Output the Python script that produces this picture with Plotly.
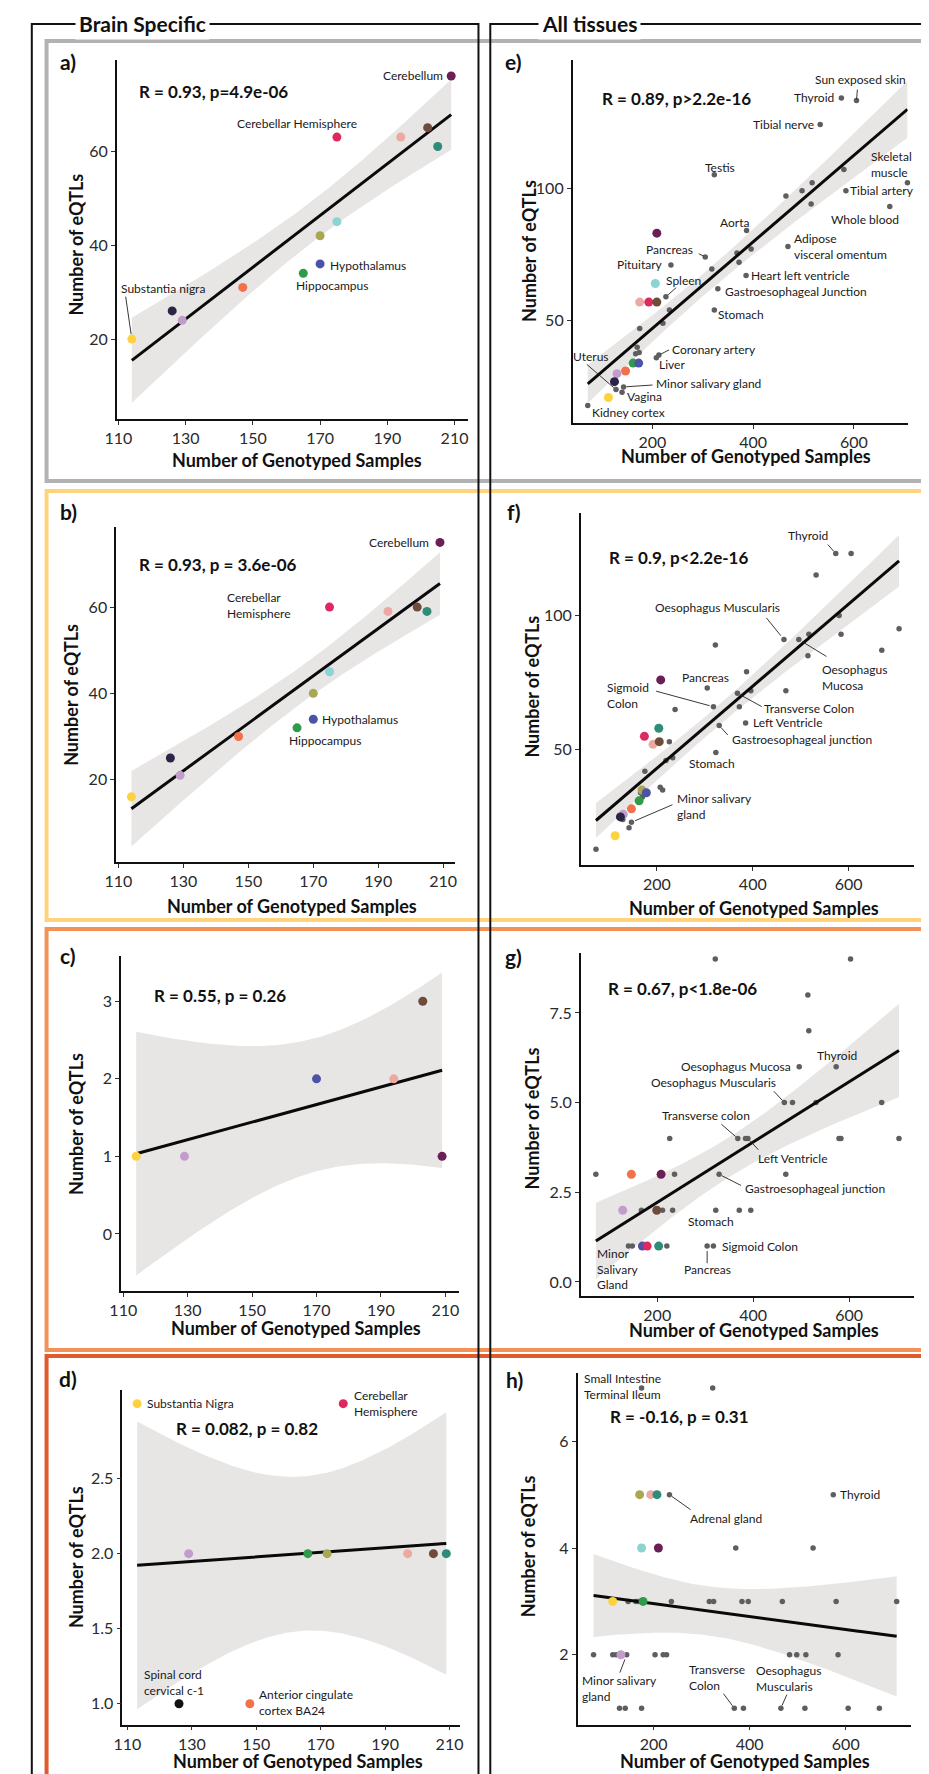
import numpy as np
import plotly.graph_objects as go

W, H = 929, 1774          # page / figure size
OFF = 0                   # no page offset
FW, FH = W - OFF, H - OFF

# ---------------------------------------------------------------- data
SN, SC, AMY, ACC, HIP, HYP, PUT, NAC, CH, CAU, FC, CTX, CB = (
    "Substantia nigra", "Spinal cord cervical c-1", "Amygdala",
    "Anterior cingulate cortex BA24", "Hippocampus", "Hypothalamus", "Putamen",
    "Nucleus accumbens", "Cerebellar Hemisphere", "Caudate", "Frontal Cortex BA9",
    "Cortex", "Cerebellum")

# panel a
a_tissue = [SN, SC, AMY, ACC, HIP, HYP, PUT, NAC, CH, CAU, FC, CTX, CB]
a_samples = [114, 126, 129, 147, 165, 170, 170, 175, 175, 194, 202, 205, 209]
a_eqtls = [20, 26, 24, 31, 34, 36, 42, 45, 63, 63, 65, 61, 76]
# panel b
b_tissue = [SN, SC, AMY, ACC, HIP, HYP, PUT, NAC, CH, CAU, FC, CTX, CB]
b_samples = [114, 126, 129, 147, 165, 170, 170, 175, 175, 193, 202, 205, 209]
b_eqtls = [16, 25, 21, 30, 32, 34, 40, 45, 60, 59, 60, 59, 75]
# panel c
c_tissue = [SN, AMY, HYP, CAU, FC, CB]
c_samples = [114, 129, 170, 194, 203, 209]
c_eqtls = [1, 1, 2, 2, 3, 1]
# panel d
d_tissue = [SN, CH, AMY, HIP, PUT, CAU, FC, CTX, SC, ACC]
d_samples = [113, 177, 129, 166, 172, 197, 205, 209, 126, 148]
d_eqtls = [3, 3, 2, 2, 2, 2, 2, 2, 1, 1]

# panel e
e_tissue = [CB, NAC, CAU, CH, FC, HIP, HYP, AMY, ACC, SC, SN]
e_samples = [209, 206, 175, 193, 209, 162, 173, 130, 147, 125, 113]
e_eqtls = [83, 64, 57, 57, 57, 34, 34, 30, 31, 27, 21]
e_other_names = ["Sun exposed skin", "Thyroid", "Tibial nerve", "Testis", "", "Skeletal muscle",
                 "Tibial artery", "Whole blood", "", "", "", "", "Aorta", "", "",
                 "Adipose visceral omentum", "", "Pancreas", "Pituitary", "",
                 "Heart left ventricle", "Gastroesophageal Junction", "Spleen", "Stomach",
                 "", "", "", "", "", "", "Coronary artery", "Liver", "Minor salivary gland",
                 "Uterus", "Vagina", "Kidney cortex"]
e_other_samples = [605, 575, 533, 323, 580, 706, 584, 671, 517, 497, 465, 515, 387, 396, 368,
                   469, 372, 305, 237, 318, 386, 330, 227, 323, 234, 221, 175, 170, 174, 167,
                   213, 208, 143, 128, 140, 72]
e_other_eqtls = [133, 134, 124, 105, 107, 102, 99, 93, 102, 99, 97, 94, 84, 77, 75.5,
                 78, 72, 74, 71, 69.5, 67, 62, 59, 54, 54, 49, 47, 40, 38, 37.5,
                 37, 36, 25, 24, 23, 18]

# panel f
f_tissue = [CB, CTX, CH, CAU, FC, PUT, HYP, HIP, ACC, AMY, SC, SN]
f_samples = [208, 204, 174, 192, 205, 169, 178, 163, 147, 130, 124, 113]
f_eqtls = [76, 58, 55, 52, 53, 35, 34, 31, 28, 26, 25, 18]
f_other_names = ["Thyroid", "", "", "", "", "", "", "Oesophagus Muscularis", "Oesophagus Mucosa",
                 "", "", "", "", "Pancreas", "Transverse Colon", "", "", "Sigmoid Colon", "", "",
                 "Left Ventricle", "Gastroesophageal junction", "", "Stomach", "", "", "", "",
                 "", "", "", "", "Minor salivary gland", "", ""]
f_other_samples = [573, 605, 532, 580, 705, 584, 517, 465, 496, 322, 515, 669, 387, 305, 368,
                   396, 469, 318, 372, 238, 385, 330, 226, 323, 233, 219, 175, 207, 212, 166,
                   170, 129, 147, 142, 73]
f_other_eqtls = [123, 123, 115, 100, 95, 93, 93, 91, 91, 89, 85, 87, 79, 73, 71,
                 72, 72, 66, 66, 65, 60, 59, 53, 49, 47, 46, 42, 36, 35, 34,
                 32.4, 24, 23, 21, 13]

# panel g
g_tissue = [ACC, CB, AMY, FC, HYP, CH, CTX]
g_samples = [146, 208, 128, 199, 169, 179, 203]
g_eqtls = [3, 3, 2, 2, 1, 1, 1]
g_other_names = ["", "", "", "", "Oesophagus Mucosa", "Thyroid", "Oesophagus Muscularis", "", "", "",
                 "", "Transverse colon", "", "Left Ventricle", "", "", "", "", "",
                 "Gastroesophageal junction", "", "", "", "", "Stomach", "", "",
                 "Minor Salivary Gland", "", "", "Pancreas", "Sigmoid Colon"]
g_other_samples = [321, 603, 514, 516, 496, 573, 465, 482, 531, 668, 226, 368, 384, 389, 579,
                   583, 704, 72, 236, 329, 468, 167, 211, 232, 322, 371, 395, 140, 148, 220,
                   304, 317]
g_other_eqtls = [9, 9, 8, 7, 6, 6, 5, 5, 5, 5, 4, 4, 4, 4, 4,
                 4, 4, 3, 3, 3, 3, 2, 2, 2, 2, 2, 2, 1, 1, 1,
                 1, 1]

# panel h
h_tissue = [PUT, CAU, CTX, NAC, CB, SN, HIP, AMY]
h_samples = [171, 194, 207, 175, 210, 115, 178, 132]
h_eqtls = [5, 5, 5, 4, 4, 3, 3, 2]
h_other_names = ["Small Intestine Terminal Ileum", "", "Adrenal gland", "Thyroid", "", "",
                 "", "", "", "", "", "", "", "", "", "", "",
                 "", "", "", "Minor salivary gland", "", "", "", "", "", "", "",
                 "", "", "", "Transverse Colon", "", "Oesophagus Muscularis", "", "", ""]
h_other_samples = [175, 323, 233, 574, 371, 532,
                   147, 163, 168, 237, 316, 325, 384, 397, 468, 580, 706,
                   75, 115, 122, 144, 203, 220, 227, 483, 498, 517, 584,
                   129, 141, 175, 368, 387, 465, 515, 605, 670]
h_other_eqtls = [7, 7, 5, 5, 4, 4,
                 3, 3, 3, 3, 3, 3, 3, 3, 3, 3, 3,
                 2, 2, 2, 2, 2, 2, 2, 2, 2, 2, 2,
                 1, 1, 1, 1, 1, 1, 1, 1, 1]

stat_text = {
    "a": "R = 0.93, p=4.9e-06", "b": "R = 0.93, p = 3.6e-06", "c": "R = 0.55, p = 0.26",
    "d": "R = 0.082, p = 0.82", "e": "R = 0.89, p&gt;2.2e-16", "f": "R = 0.9, p&lt;2.2e-16",
    "g": "R = 0.67, p&lt;1.8e-06", "h": "R = -0.16, p = 0.31"}

brain_ticks = [110, 130, 150, 170, 190, 210]
all_ticks = [200, 400, 600]

# ---------------------------------------------------------------- styles
FONT = "Lato, 'Open Sans', sans-serif"
TISSUE_COLOR = {SN: "#FDD23E", SC: "#2B2447", AMY: "#C29DCB", ACC: "#F0714A",
                HIP: "#2F9B48", HYP: "#4B53A6", PUT: "#A9A753", NAC: "#8CD3D1",
                CH: "#DE2860", CAU: "#EBA9A2", FC: "#6E4B3A", CTX: "#2E8C78", CB: "#6A1F57"}
D_OVERRIDE = {SC: "#111111"}
GREY_DOT = "#5E5E5E"
BAND = "#E8E5E5"


def t975(df):
    z = 1.959964
    g1 = (z**3 + z) / 4
    g2 = (5*z**5 + 16*z**3 + 3*z) / 96
    g3 = (3*z**7 + 19*z**5 + 17*z**3 - 15*z) / 384
    g4 = (79*z**9 + 776*z**7 + 1482*z**5 - 1920*z**3 - 945*z) / 92160
    return z + g1/df + g2/df**2 + g3/df**3 + g4/df**4


def lm_band(x, y):
    x = np.asarray(x, float); y = np.asarray(y, float)
    n = len(x)
    b, a = np.polyfit(x, y, 1)
    xs = np.linspace(x.min(), x.max(), 120)
    yh = a + b*xs
    s = np.sqrt(np.sum((y - (a + b*x))**2) / (n - 2))
    sxx = np.sum((x - x.mean())**2)
    se = s*np.sqrt(1/n + (xs - x.mean())**2/sxx)
    t = t975(n - 2)
    return xs, yh, yh - t*se, yh + t*se


# label specs: (lookup key, display text, dx, dy, anchor, leader(ax, ay, standoff))
labels = {
    "a": [(CB, "Cerebellum", -6, 0, "right", None),
          (CH, "Cerebellar Hemisphere", -40, 14, "center", None),
          (HYP, "Hypothalamus", 8, -2, "left", None),
          (HIP, "Hippocampus", -9, -12, "left", None),
          (SN, "Substantia nigra", 31, 50.6, "center", (-6.4, -44, 5))],
    "b": [(CB, "Cerebellum", -9, 0, "right", None),
          (CH, "Cerebellar<br>Hemisphere", -38, 1.5, "right", None),
          (HYP, "Hypothalamus", 7, 0, "left", None),
          (HIP, "Hippocampus", -10, -12.4, "left", None)],
    "c": [],
    "d": [(SN, "Substantia Nigra", 8, 0, "left", None),
          (CH, "Cerebellar<br>Hemisphere", 9, 0, "left", None),
          (SC, "Spinal cord<br>cervical c-1", -37, 21, "left", None),
          (ACC, "Anterior cingulate<br>cortex BA24", 7, 1, "left", None)],
    "e": [("Sun exposed skin", "Sun exposed skin", 4, 21, "center", (1, -12.5, 1)),
          ("Thyroid", "Thyroid", -5, 0, "right", None),
          ("Tibial nerve", "Tibial nerve", -4, 0, "right", None),
          ("Testis", "Testis", 5.6, 7, "center", None),
          ("Skeletal muscle", "Skeletal<br>muscle", -38, 18, "left", None),
          ("Tibial artery", "Tibial artery", 2, 0, "left", None),
          ("Whole blood", "Whole blood", -25, -13, "center", None),
          ("Aorta", "Aorta", -12, 7.5, "center", None),
          ("Adipose visceral omentum", "Adipose<br>visceral omentum", 4.5, 0, "left", None),
          ("Pancreas", "Pancreas", -10, 7, "right", (-8, -4, 2)),
          ("Pituitary", "Pituitary", -6, 0, "right", None),
          ("Heart left ventricle", "Heart left ventricle", 3, 0, "left", None),
          ("Gastroesophageal Junction", "Gastroesophageal Junction", 5, -2.5, "left", None),
          ("Spleen", "Spleen", 17.7, 16, "center", (11.8, -10.5, 3)),
          ("Stomach", "Stomach", 2, -4, "left", None),
          ("Coronary artery", "Coronary artery", 11, 6, "left", (11.7, -6, 2)),
          ("Liver", "Liver", 1, -7, "left", None),
          ("Uterus", "Uterus", -24.5, 33, "center", (-30.8, -26.6, 3)),
          ("Minor salivary gland", "Minor salivary gland", 30, 3, "left", (30.5, -2, 3)),
          ("Vagina", "Vagina", 3, -4, "left", None),
          ("Kidney cortex", "Kidney cortex", 2, -7, "left", None)],
    "f": [("Thyroid", "Thyroid", -27.5, 18, "center", (-9.2, -10.5, 3)),
          ("Oesophagus Muscularis", "Oesophagus Muscularis", -66.7, 32, "center", (-18.8, -23.2, 5)),
          ("Oesophagus Mucosa", "Oesophagus<br>Mucosa", 21.5, -37.7, "left", (29.1, 17.8, 4)),
          ("Pancreas", "Pancreas", -1.3, 10, "center", None),
          ("Sigmoid Colon", "Sigmoid<br>Colon", -108, 11, "left", (-58.8, -16, 4)),
          ("Transverse Colon", "Transverse Colon", 25, -15.5, "left", (25.8, 14.1, 3)),
          ("Left Ventricle", "Left Ventricle", 5, 0, "left", None),
          ("Gastroesophageal junction", "Gastroesophageal junction", 11, -13.5, "left", (10, 11, 3)),
          ("Stomach", "Stomach", -3.4, -11, "center", None),
          ("Minor salivary gland", "Minor salivary<br>gland", 44, 16, "left", (42.5, -18.2, 4))],
    "g": [("Oesophagus Mucosa", "Oesophagus Mucosa", -6.7, 0, "right", None),
          ("Thyroid", "Thyroid", 0.5, 11, "center", None),
          ("Oesophagus Muscularis", "Oesophagus Muscularis", -6, 20, "right", (-11.9, -12.9, 3)),
          ("Transverse colon", "Transverse colon", -32, 22.5, "center", (-17.9, -15.5, 3)),
          ("Left Ventricle", "Left Ventricle", 8.5, -20, "left", (11.9, 12.8, 3)),
          ("Gastroesophageal junction", "Gastroesophageal junction", 23.4, -14.3, "left", (23.4, 11.9, 3)),
          ("Stomach", "Stomach", -4.5, -11.7, "center", None),
          ("Sigmoid Colon", "Sigmoid Colon", 7, 0, "left", None),
          ("Pancreas", "Pancreas", 0, -23.6, "center", (0, 18.6, 5)),
          ("Minor Salivary Gland", "Minor<br>Salivary<br>Gland", -33, -23.2, "left", None)],
    "h": [("Small Intestine Terminal Ileum", "Small Intestine<br>Terminal Ileum", -59.5, 1.3, "left", None),
          ("Adrenal gland", "Adrenal gland", 19, -23.6, "left", (22.6, 16, 3)),
          ("Thyroid", "Thyroid", 5, 0, "left", None),
          ("Minor salivary gland", "Minor salivary<br>gland", -47, -33.6, "left", (-7.4, 19.3, 5)),
          ("Transverse Colon", "Transverse<br>Colon", -47, 30.3, "left", (-12, -16, 3)),
          ("Oesophagus Muscularis", "Oesophagus<br>Muscularis", -27, 29.5, "left", (6.6, -15, 3))],
}

# panel geometry (pixel boxes of the plotting areas, page coordinates) and ranges
panels = [
    dict(k="a", tis=a_tissue, x=a_samples, y=a_eqtls, box=(98.3, 455, 52, 411),
         xr=[109.5, 213.9], yr=[3.0, 79.4], xt=brain_ticks, yt=[20, 40, 60], ytt=None,
         stat=(119, 83), letter=(49, 53), xtitle=(281.5, 452), ytitle=(57, 236.5)),
    dict(k="b", tis=b_tissue, x=b_samples, y=b_eqtls, box=(97.7, 441.7, 519.3, 854),
         xr=[109.3, 213.5], yr=[0.9, 78.5], xt=brain_ticks, yt=[20, 40, 60], ytt=None,
         stat=(119, 556.7), letter=(49, 503), xtitle=(276, 898), ytitle=(52, 686.7)),
    dict(k="c", tis=c_tissue, x=c_samples, y=c_eqtls, box=(102.7, 446.7, 948.3, 1283.3),
         xr=[109.3, 214.4], yr=[-0.74, 3.58], xt=brain_ticks, yt=[0, 1, 2, 3], ytt=None,
         stat=(134, 987), letter=(49, 947), xtitle=(281, 1320), ytitle=(57, 1115.8)),
    dict(k="d", tis=d_tissue, x=d_samples, y=d_eqtls, box=(104, 447.7, 1381.7, 1716.7),
         xr=[108.4, 213.4], yr=[0.86, 3.093], xt=brain_ticks, yt=[1.0, 1.5, 2.0, 2.5],
         ytt=["1.0", "1.5", "2.0", "2.5"],
         stat=(157, 1420), letter=(49, 1370), xtitle=(282.5, 1753), ytitle=(57, 1549)),
    dict(k="e", tis=e_tissue, x=e_samples, y=e_eqtls, ox=e_other_samples, oy=e_other_eqtls,
         on=e_other_names, box=(561.7, 902.3, 51.7, 415),
         xr=[42, 706.6], yr=[11.4, 148.4], xt=all_ticks, yt=[50, 100], ytt=None,
         stat=(590, 90.7), letter=(502, 53), xtitle=(738, 448), ytitle=(518, 243.3)),
    dict(k="f", tis=f_tissue, x=f_samples, y=f_eqtls, ox=f_other_samples, oy=f_other_eqtls,
         on=f_other_names, box=(570, 909, 505, 857.3),
         xr=[41.4, 736.8], yr=[7, 138.1], xt=all_ticks, yt=[50, 100], ytt=None,
         stat=(596.7, 549.3), letter=(502, 503), xtitle=(746, 900), ytitle=(520, 679)),
    dict(k="g", tis=g_tissue, x=g_samples, y=g_eqtls, ox=g_other_samples, oy=g_other_eqtls,
         on=g_other_names, box=(570, 909, 945, 1288.3),
         xr=[40.6, 736], yr=[-0.4, 9.17], xt=all_ticks, yt=[0, 2.5, 5, 7.5],
         ytt=["0.0", "2.5", "5.0", "7.5"],
         stat=(596, 980.7), letter=(502, 948), xtitle=(746, 1322), ytitle=(520, 1110.8)),
    dict(k="h", tis=h_tissue, x=h_samples, y=h_eqtls, ox=h_other_samples, oy=h_other_eqtls,
         on=h_other_names, box=(566.7, 905.7, 1365, 1716.7),
         xr=[41.7, 736], yr=[0.69, 7.28], xt=all_ticks, yt=[2, 4, 6], ytt=None,
         stat=(597.3, 1408.3), letter=(503, 1371), xtitle=(736.7, 1753), ytitle=(516.7, 1538)),
]


def P(px, py):
    """page pixel -> paper coordinates"""
    return (px - OFF) / FW, 1 - (py - OFF) / FH


fig = go.Figure()
ann = []
layout = {}

for i, p in enumerate(panels, start=1):
    xa = "x" if i == 1 else f"x{i}"
    ya = "y" if i == 1 else f"y{i}"
    xs_all = list(p["x"]) + list(p.get("ox", []))
    ys_all = list(p["y"]) + list(p.get("oy", []))
    xs, yh, lo, hi = lm_band(xs_all, ys_all)

    fig.add_trace(go.Scatter(x=np.concatenate([xs, xs[::-1]]), y=np.concatenate([hi, lo[::-1]]),
                             fill="toself", fillcolor=BAND, line=dict(width=0), mode="lines",
                             hoverinfo="skip", xaxis=xa, yaxis=ya))
    if "ox" in p:
        fig.add_trace(go.Scatter(x=p["ox"], y=p["oy"], mode="markers", cliponaxis=False,
                                 marker=dict(size=5.5, color=GREY_DOT), xaxis=xa, yaxis=ya,
                                 text=p["on"]))
    fig.add_trace(go.Scatter(x=xs, y=yh, mode="lines", line=dict(color="#0a0a0a", width=3),
                             xaxis=xa, yaxis=ya, hoverinfo="skip"))
    cols = [D_OVERRIDE.get(t, TISSUE_COLOR[t]) if p["k"] == "d" else TISSUE_COLOR[t] for t in p["tis"]]
    fig.add_trace(go.Scatter(x=p["x"], y=p["y"], mode="markers", cliponaxis=False,
                             marker=dict(size=9, color=cols), text=p["tis"],
                             xaxis=xa, yaxis=ya))

    x0, x1, y0, y1 = p["box"]
    dx0, dy1 = P(x0, y1)
    dx1, dy0 = P(x1, y0)
    axcommon = dict(showline=True, linecolor="#111", linewidth=1.5, showgrid=False,
                    zeroline=False, ticks="outside", ticklen=4, tickwidth=1.2,
                    tickcolor="#333", tickfont=dict(family=FONT, size=16, color="#2a2a2a"))
    layout["xaxis" if i == 1 else f"xaxis{i}"] = dict(
        domain=[dx0, dx1], anchor=ya, range=p["xr"], tickvals=p["xt"], **axcommon)
    yd = dict(domain=[dy1, dy0], anchor=xa, range=p["yr"], tickvals=p["yt"], **axcommon)
    if p["ytt"]:
        yd["ticktext"] = p["ytt"]
    layout["yaxis" if i == 1 else f"yaxis{i}"] = yd

    # statistics text
    sx, sy = P(*p["stat"])
    ann.append(dict(x=sx, y=sy, xref="paper", yref="paper", xanchor="left", yanchor="middle",
                    text=f"<b>{stat_text[p['k']]}</b>", showarrow=False,
                    font=dict(family=FONT, size=17, color="#111")))
    lx, ly = P(*p["letter"])
    ann.append(dict(x=lx, y=ly, xref="paper", yref="paper", xanchor="center", yanchor="middle",
                    text=f"<b>{p['k']})</b>", showarrow=False,
                    font=dict(family=FONT, size=21, color="#111")))
    tx, ty = P(*p["xtitle"])
    ann.append(dict(x=tx, y=ty, xref="paper", yref="paper", xanchor="center", yanchor="middle",
                    text="<b>Number of Genotyped Samples</b>", showarrow=False,
                    font=dict(family=FONT, size=18, color="#111")))
    vx, vy = P(*p["ytitle"])
    ann.append(dict(x=vx, y=vy, xref="paper", yref="paper", xanchor="center", yanchor="middle",
                    text="<b>Number of eQTLs</b>", showarrow=False, textangle=-90,
                    font=dict(family=FONT, size=18, color="#111")))

    # tissue labels
    lookup = {}
    for t, xv, yv in zip(p["tis"], p["x"], p["y"]):
        lookup[t] = (xv, yv)
    for nm, xv, yv in zip(p.get("on", []), p.get("ox", []), p.get("oy", [])):
        if nm:
            lookup[nm] = (xv, yv)
    for key, txt, dx, dy, anch, lead in labels[p["k"]]:
        xv, yv = lookup[key]
        ann.append(dict(x=xv, y=yv, xref=xa, yref=ya, text=txt, showarrow=False,
                        xanchor=anch, yanchor="middle", xshift=dx, yshift=dy, align="left",
                        font=dict(family=FONT, size=12, color="#1a1a1a")))
        if lead:
            lax, lay, so = lead
            ann.append(dict(x=xv, y=yv, xref=xa, yref=ya, text="", showarrow=True,
                            arrowhead=0, arrowwidth=0.9, arrowcolor="#222", ax=lax, ay=lay,
                            standoff=so))

# frames
shapes = []
for (top, bot, col) in [(33, 473, "#B2B2B2"), (483, 912, "#FFD37B"),
                        (921, 1342, "#F39157"), (1348, 1768, "#E05A2B")]:
    x0, y0 = P(27, top)
    x1, y1 = P(919, bot)
    shapes.append(dict(type="rect", xref="paper", yref="paper", x0=x0, x1=x1, y0=y1, y1=y0,
                       line=dict(color=col, width=4), fillcolor="rgba(0,0,0,0)", layer="above"))
for (l, r) in [(12, 466), (478, 945)]:
    x0, y0 = P(l, 16)
    x1, y1 = P(r, 1800)
    shapes.append(dict(type="rect", xref="paper", yref="paper", x0=x0, x1=x1, y0=y1, y1=y0,
                       line=dict(color="#111", width=2), fillcolor="rgba(0,0,0,0)", layer="above"))

for txt, cx in [("Brain Specific", 125), ("All tissues", 579)]:
    x, y = P(cx, 16)
    ann.append(dict(x=x, y=y, xref="paper", yref="paper", xanchor="center", yanchor="middle",
                    text=f"<b>{txt}</b>", showarrow=False, bgcolor="white", borderpad=3,
                    font=dict(family=FONT, size=21, color="#111")))

fig.update_layout(width=FW, height=FH, margin=dict(l=0, r=0, t=0, b=0), autosize=False,
                  paper_bgcolor="white", plot_bgcolor="white", showlegend=False,
                  annotations=ann, shapes=shapes, **layout)

fig.write_html("out.html")
